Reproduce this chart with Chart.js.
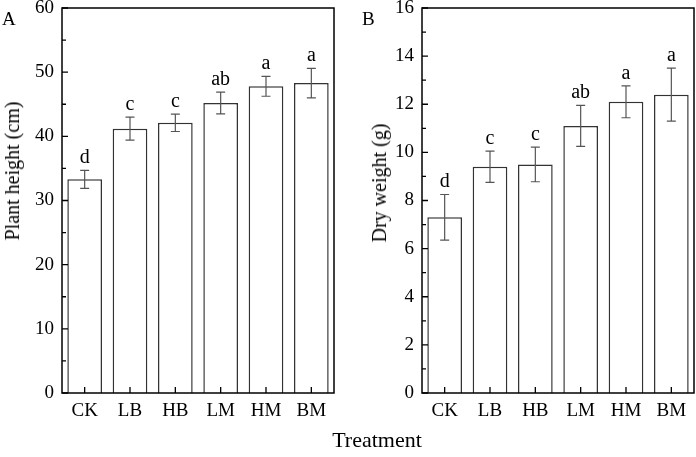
<!DOCTYPE html>
<html>
<head>
<meta charset="utf-8">
<script src="https://cdn.jsdelivr.net/npm/chart.js@4"></script>
<style>
  html, body { margin: 0; padding: 0; background: #fff; }
  body { width: 696px; height: 457px; position: relative; overflow: hidden;
         font-family: "Liberation Serif", "Times New Roman", serif; color: #000; }
  .panel { position: absolute; top: 0; height: 457px; }
  .txt { position: absolute; white-space: nowrap; line-height: 1; }
  .ytitle { position: absolute; white-space: nowrap; line-height: 1; font-size: 20px;
            transform: translate(-50%, -50%) rotate(-90deg); }
</style>
</head>
<body>
<div class="panel" style="left:0;width:345px"><canvas id="heightChart"></canvas></div>
<div class="panel" style="left:348px;width:348px"><canvas id="weightChart"></canvas></div>

<div class="txt" style="left:2px;top:9px;font-size:19px">A</div>
<div class="txt" style="left:362px;top:9px;font-size:19px">B</div>
<div class="ytitle" style="left:12px;top:171px">Plant height (cm)</div>
<div class="ytitle" style="left:379px;top:183px">Dry weight (g)</div>
<div class="txt" style="left:377px;top:429px;font-size:22px;transform:translateX(-50%)">Treatment</div>

<script>
// Data
const categories = ["CK", "LB", "HB", "LM", "HM", "BM"];
const heightMeans = [33.3, 41.2, 42.1, 45.2, 47.8, 48.3];
const heightErrors = [1.4, 1.8, 1.35, 1.7, 1.55, 2.3];
const weightMeans = [7.3, 9.4, 9.5, 11.1, 12.1, 12.4];
const weightErrors = [0.95, 0.65, 0.72, 0.85, 0.66, 1.1];
const letters = ["d", "c", "c", "ab", "a", "a"];

const serif = '"Liberation Serif", "Times New Roman", serif';

// error bars, significance letters, frame and inward ticks
const panelPlugin = {
  id: "panel",
  afterDatasetsDraw(chart, args, opts) {
    const ctx = chart.ctx;
    const x = chart.scales.x;
    const y = chart.scales.y;
    const area = chart.chartArea;
    const values = chart.data.datasets[0].data;
    ctx.save();

    // error bars
    ctx.strokeStyle = "#555";
    ctx.lineWidth = 1.2;
    values.forEach((v, i) => {
      const cx = x.getPixelForValue(i);
      const top = y.getPixelForValue(v + opts.errors[i]);
      const bot = y.getPixelForValue(v - opts.errors[i]);
      ctx.beginPath();
      ctx.moveTo(cx, top);
      ctx.lineTo(cx, bot);
      ctx.moveTo(cx - 4.5, top);
      ctx.lineTo(cx + 4.5, top);
      ctx.moveTo(cx - 4.5, bot);
      ctx.lineTo(cx + 4.5, bot);
      ctx.stroke();
    });

    // letters above error bars
    ctx.fillStyle = "#000";
    ctx.font = "20px " + serif;
    ctx.textAlign = "center";
    ctx.textBaseline = "alphabetic";
    values.forEach((v, i) => {
      const cx = x.getPixelForValue(i);
      const top = y.getPixelForValue(v + opts.errors[i]);
      ctx.fillText(opts.letters[i], cx, top - 7);
    });

    // ticks pointing inward
    ctx.strokeStyle = "#000";
    ctx.lineWidth = 1.3;
    ctx.beginPath();
    const ticks = y.ticks.map((t) => t.value);
    const step = ticks[1] - ticks[0];
    ticks.forEach((t) => {
      const py = y.getPixelForValue(t);
      ctx.moveTo(area.left, py);
      ctx.lineTo(area.left + 6, py);
      if (t + step / 2 < y.max) {
        const pm = y.getPixelForValue(t + step / 2);
        ctx.moveTo(area.left, pm);
        ctx.lineTo(area.left + 4, pm);
      }
    });
    categories.forEach((c, i) => {
      const px = x.getPixelForValue(i);
      ctx.moveTo(px, area.bottom);
      ctx.lineTo(px, area.bottom - 6);
    });
    ctx.stroke();

    // frame
    ctx.lineWidth = 1.5;
    ctx.strokeRect(area.left, area.top, area.right - area.left, area.bottom - area.top);
    ctx.restore();
  },
};

function makeChart(id, means, errors, yMax, yStep, yAxisWidth, rightPad) {
  const ctx = document.getElementById(id).getContext("2d");
  return new Chart(ctx, {
    type: "bar",
    data: {
      labels: categories,
      datasets: [
        {
          data: means,
          backgroundColor: "#fff",
          borderColor: "#333",
          borderWidth: 1.5,
          barPercentage: 0.765,
          categoryPercentage: 1,
        },
      ],
    },
    options: {
      responsive: true,
      maintainAspectRatio: false,
      animation: false,
      layout: { padding: { top: 8, right: rightPad, bottom: 34, left: 0 } },
      plugins: {
        legend: { display: false },
        tooltip: { enabled: false },
        panel: { errors: errors, letters: letters },
      },
      scales: {
        x: {
          grid: { display: false, drawTicks: false },
          border: { display: false },
          ticks: { color: "#000", padding: 7, font: { family: serif, size: 19 } },
          afterFit: (s) => { s.height = 30; },
        },
        y: {
          min: 0,
          max: yMax,
          grid: { display: false, drawTicks: false },
          border: { display: false },
          ticks: { stepSize: yStep, color: "#000", padding: 8, font: { family: serif, size: 19 } },
          afterFit: (s) => { s.width = yAxisWidth; s.paddingTop = 0; s.paddingBottom = 0; },
        },
      },
    },
    plugins: [panelPlugin],
  });
}

makeChart("heightChart", heightMeans, heightErrors, 60, 10, 62, 11);
makeChart("weightChart", weightMeans, weightErrors, 16, 2, 74, 2);
</script>
</body>
</html>
